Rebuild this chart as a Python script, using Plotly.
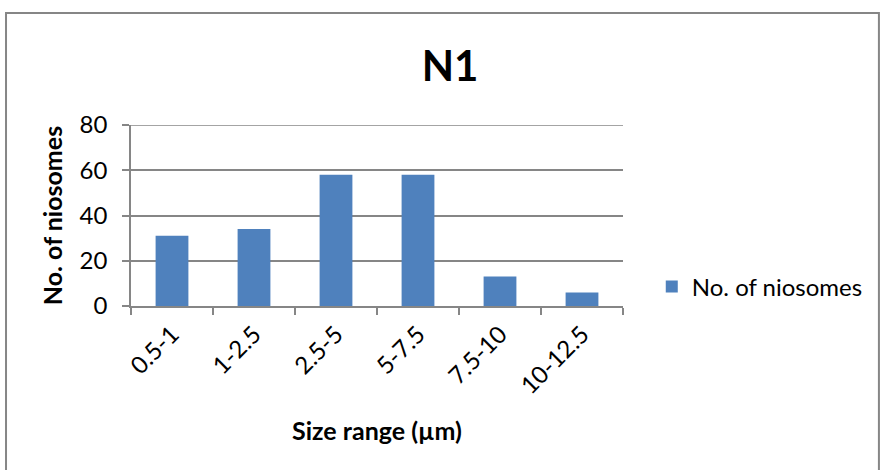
import plotly.graph_objects as go

categories = ["0.5-1", "1-2.5", "2.5-5", "5-7.5", "7.5-10", "10-12.5"]
counts = [31, 34, 58, 58, 13, 6]
series_name = "No. of niosomes"
y_ticks = [0, 20, 40, 60, 80]

FONT = "Lato, 'Open Sans', sans-serif"
GRID = "#868686"

L, R, T, B = 131, 627, 125, 306
W, H = 880, 470

fig = go.Figure()
fig.add_trace(go.Bar(
    x=categories, y=counts, name=series_name,
    marker=dict(color="#4F81BD", line=dict(width=0)),
    width=0.4,
))

fig.update_layout(
    width=W, height=H,
    margin=dict(l=L, r=W - R, t=T, b=H - B, pad=0),
    paper_bgcolor="white", plot_bgcolor="white",
    font=dict(family=FONT, size=24, color="black"),
    title=dict(text="<b>N1</b>", x=450 / W, xanchor="center",
               y=1 - 66 / H, yanchor="middle",
               font=dict(size=42, family=FONT)),
    showlegend=True,
    legend=dict(x=(656 - L) / (R - L), y=(B - 287) / (B - T),
                xanchor="left", yanchor="middle",
                font=dict(size=24, family=FONT),
                bgcolor="rgba(0,0,0,0)"),
    bargap=0.6,
)

fig.update_xaxes(
    type="category", tickangle=-45, tickson="boundaries",
    ticks="outside", ticklen=7, tickcolor=GRID, tickwidth=1.5,
    ticklabelstandoff=3,
    showline=True, linecolor=GRID, linewidth=1.5,
    showgrid=False,
    tickfont=dict(size=24, family=FONT),
    title=dict(text="<b>Size range (µm)</b>", font=dict(size=25, family=FONT), standoff=24),
)
fig.update_yaxes(
    range=[0, max(y_ticks)], tickvals=y_ticks,
    ticks="outside", ticklen=7, tickcolor=GRID, tickwidth=1.5,
    ticklabelstandoff=10,
    showline=True, linecolor=GRID, linewidth=1.5,
    showgrid=True, gridcolor=GRID, gridwidth=1.5,
    zeroline=False,
    tickfont=dict(size=24, family=FONT),
    title=dict(text="<b>No. of niosomes</b>", font=dict(size=25, family=FONT), standoff=10),
)

# top gridline (at the axis maximum)
fig.add_shape(type="line", xref="paper", yref="y", x0=0, x1=1,
              y0=max(y_ticks), y1=max(y_ticks),
              line=dict(color=GRID, width=1.5))

# outer chart border
pw, ph = R - L, B - T
fig.add_shape(type="rect", xref="paper", yref="paper",
              x0=(5 - L) / pw, x1=(W + 5 - L) / pw,
              y0=(B - (H + 5)) / ph, y1=(B - 13) / ph,
              line=dict(color=GRID, width=2), fillcolor="rgba(0,0,0,0)", layer="below")

fig.write_html("out.html")
